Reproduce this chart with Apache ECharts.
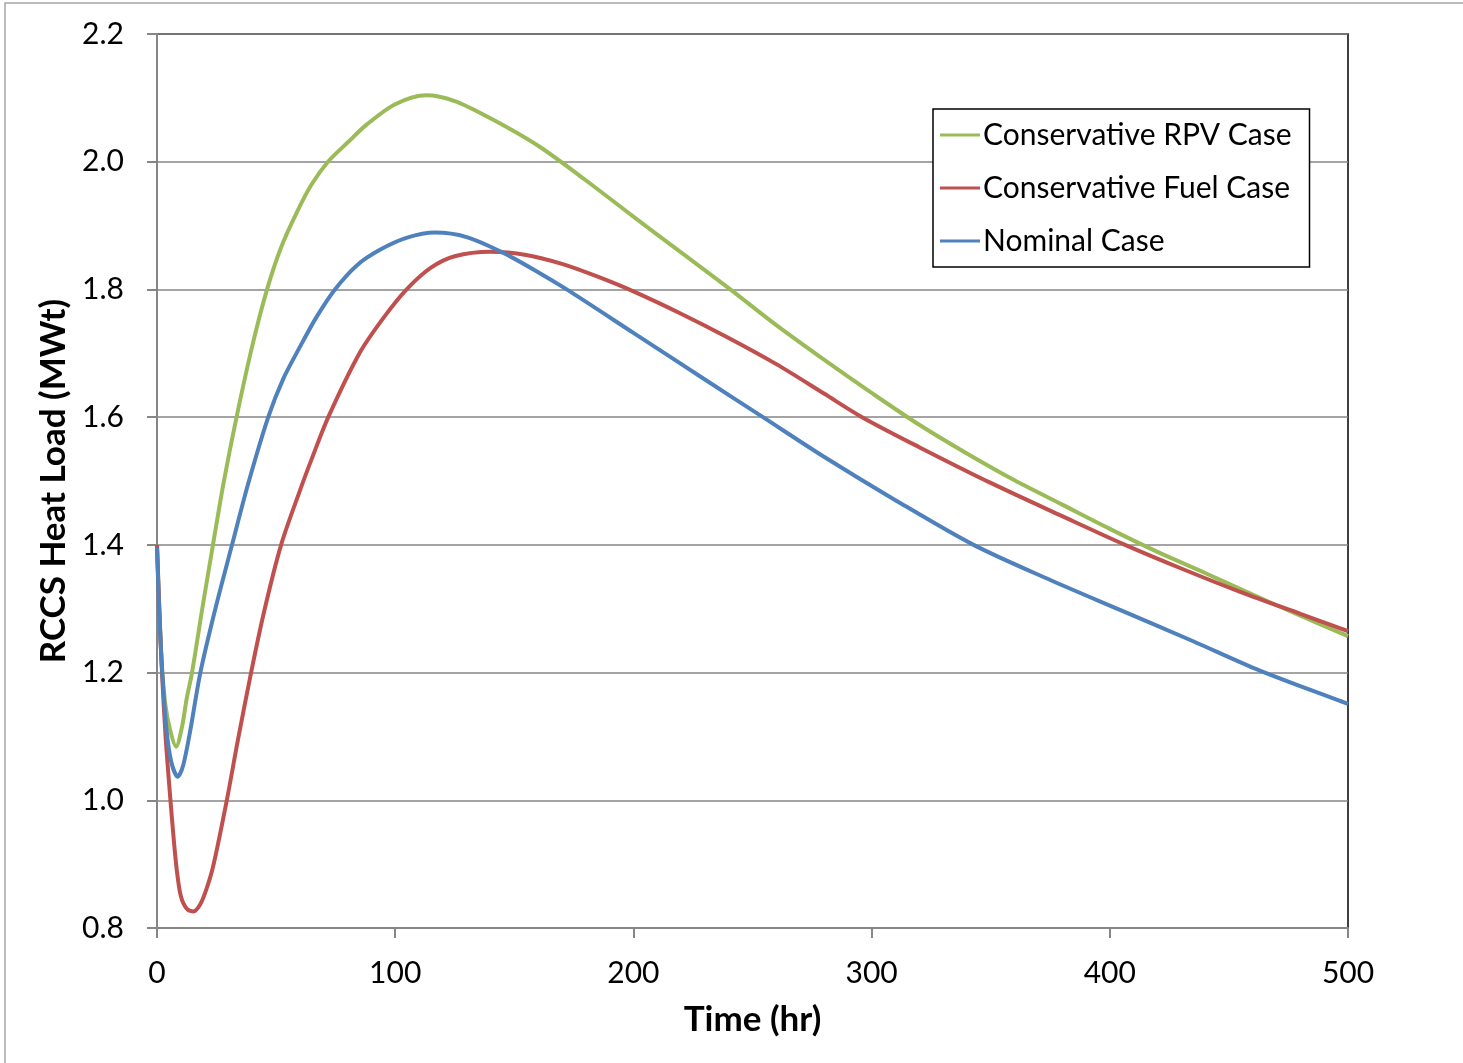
<!DOCTYPE html>
<html>
<head>
<meta charset="utf-8">
<script src="https://cdn.jsdelivr.net/npm/echarts@6/dist/echarts.min.js"></script>
<style>
  html, body { margin: 0; padding: 0; background: #fff; }
  #main { width: 1463px; height: 1063px; }
</style>
</head>
<body>
<div id="main"></div>
<script>
// time (hr) and heat load (MWt)
var rpvTime  = [0, 1, 2, 3.5, 5.5, 8, 10.5, 12.5, 14.7, 19, 23.5, 27.9, 33.4, 39.9, 46.2, 52, 58.6, 65, 71.8, 80, 88, 100, 113, 125, 140, 160, 180, 200, 220, 240, 260, 280, 300, 320, 340, 360, 380, 400, 420, 440, 460, 480, 500];
var rpvLoad  = [1.40, 1.30, 1.215, 1.15, 1.11, 1.084, 1.115, 1.16, 1.20, 1.30, 1.40, 1.496, 1.60, 1.71, 1.80, 1.865, 1.92, 1.965, 2.00, 2.03, 2.058, 2.09, 2.104, 2.095, 2.068, 2.025, 1.971, 1.914, 1.858, 1.802, 1.744, 1.690, 1.638, 1.588, 1.543, 1.501, 1.463, 1.425, 1.389, 1.356, 1.322, 1.289, 1.257];

var fuelTime = [0, 1, 2.1, 3.6, 5.3, 7, 8.3, 10, 12.5, 15.3, 18, 20.5, 23.6, 29.3, 34, 39.5, 45, 52.1, 60, 65, 71.9, 85, 95, 104.8, 115, 125, 140, 155, 170, 185, 200, 220, 240, 260, 280, 296, 320, 350, 380, 406.4, 430, 455, 480, 500];
var fuelLoad = [1.40, 1.295, 1.20, 1.10, 1.016, 0.94, 0.891, 0.85, 0.83, 0.826, 0.836, 0.858, 0.897, 1.0, 1.095, 1.20, 1.296, 1.40, 1.485, 1.535, 1.60, 1.70, 1.755, 1.80, 1.834, 1.852, 1.859, 1.854, 1.84, 1.82, 1.797, 1.762, 1.724, 1.683, 1.637, 1.60, 1.553, 1.497, 1.445, 1.40, 1.363, 1.326, 1.292, 1.265];

var nomTime  = [0, 1, 2.2, 4, 6, 8.7, 11, 14, 18.2, 24.5, 31.5, 38.3, 46.7, 53, 60, 67, 74.7, 84, 93.6, 105, 116.7, 130, 145, 160, 172, 200, 230, 254.4, 280, 310, 342.8, 375, 405, 435, 463, 500];
var nomLoad  = [1.395, 1.29, 1.20, 1.11, 1.06, 1.037, 1.055, 1.11, 1.20, 1.30, 1.40, 1.496, 1.60, 1.66, 1.71, 1.757, 1.80, 1.838, 1.862, 1.881, 1.889, 1.882, 1.858, 1.827, 1.80, 1.732, 1.659, 1.60, 1.538, 1.470, 1.40, 1.345, 1.297, 1.249, 1.203, 1.151];

var seriesNames = ['Conservative RPV Case', 'Conservative Fuel Case', 'Nominal Case'];
var colors = ['#9BBB59', '#C0504D', '#4F81BD'];

function pairs(t, v) {
    var out = [];
    for (var i = 0; i < t.length; i++) {
        out.push([t[i], v[i]]);
    }
    return out;
}

var myChart = echarts.init(document.getElementById('main'));
var font = 'Lato, "DejaVu Sans", sans-serif';

var option = {
    animation: false,
    color: colors,
    graphic: [{
        type: 'rect',
        shape: { x: 5, y: 3, width: 1470, height: 1080 },
        style: { fill: 'none', stroke: '#a6a6a6', lineWidth: 1.5 },
        silent: true
    }],
    grid: {
        left: 157,
        top: 34,
        right: 115,
        bottom: 135,
        show: true,
        borderColor: '#000',
        borderWidth: 1.5
    },
    legend: {
        orient: 'vertical',
        left: 933,
        top: 109,
        padding: [11, 18, 11, 7],
        itemGap: 23,
        itemWidth: 40,
        itemHeight: 3,
        icon: 'rect',
        borderColor: '#000',
        borderWidth: 1.5,
        backgroundColor: '#fff',
        textStyle: { fontFamily: font, fontSize: 30, color: '#000', lineHeight: 30, padding: [0, 0, 0, -2] },
        data: seriesNames
    },
    xAxis: {
        type: 'value',
        min: 0,
        max: 500,
        interval: 100,
        name: 'Time (hr)',
        nameLocation: 'middle',
        nameGap: 74,
        nameTextStyle: { fontFamily: font, fontSize: 35, fontWeight: 'bold', color: '#000' },
        axisLine: { lineStyle: { color: '#868686', width: 2 } },
        axisTick: { show: true, length: 10, lineStyle: { color: '#868686', width: 2 } },
        axisLabel: { fontFamily: font, fontSize: 30, color: '#000', margin: 30 },
        splitLine: { show: false }
    },
    yAxis: {
        type: 'value',
        min: 0.8,
        max: 2.2,
        interval: 0.2,
        name: 'RCCS Heat Load (MWt)',
        nameLocation: 'middle',
        nameGap: 84,
        nameRotate: 90,
        nameTextStyle: { fontFamily: font, fontSize: 35, fontWeight: 'bold', color: '#000' },
        axisLine: { show: true, lineStyle: { color: '#868686', width: 2 } },
        axisTick: { show: true, length: 10, lineStyle: { color: '#868686', width: 2 } },
        axisLabel: {
            fontFamily: font, fontSize: 30, color: '#000', margin: 33,
            formatter: function (v) { return v.toFixed(1); }
        },
        splitLine: { show: true, lineStyle: { color: '#868686', width: 1.5 } }
    },
    series: [
        {
            name: seriesNames[0],
            type: 'line',
            data: pairs(rpvTime, rpvLoad),
            smooth: 0.3,
            symbol: 'none',
            lineStyle: { width: 4 },
            z: 3
        },
        {
            name: seriesNames[1],
            type: 'line',
            data: pairs(fuelTime, fuelLoad),
            smooth: 0.3,
            symbol: 'none',
            lineStyle: { width: 4 },
            z: 4
        },
        {
            name: seriesNames[2],
            type: 'line',
            data: pairs(nomTime, nomLoad),
            smooth: 0.3,
            symbol: 'none',
            lineStyle: { width: 4 },
            z: 5
        }
    ]
};

myChart.setOption(option);
</script>
</body>
</html>
